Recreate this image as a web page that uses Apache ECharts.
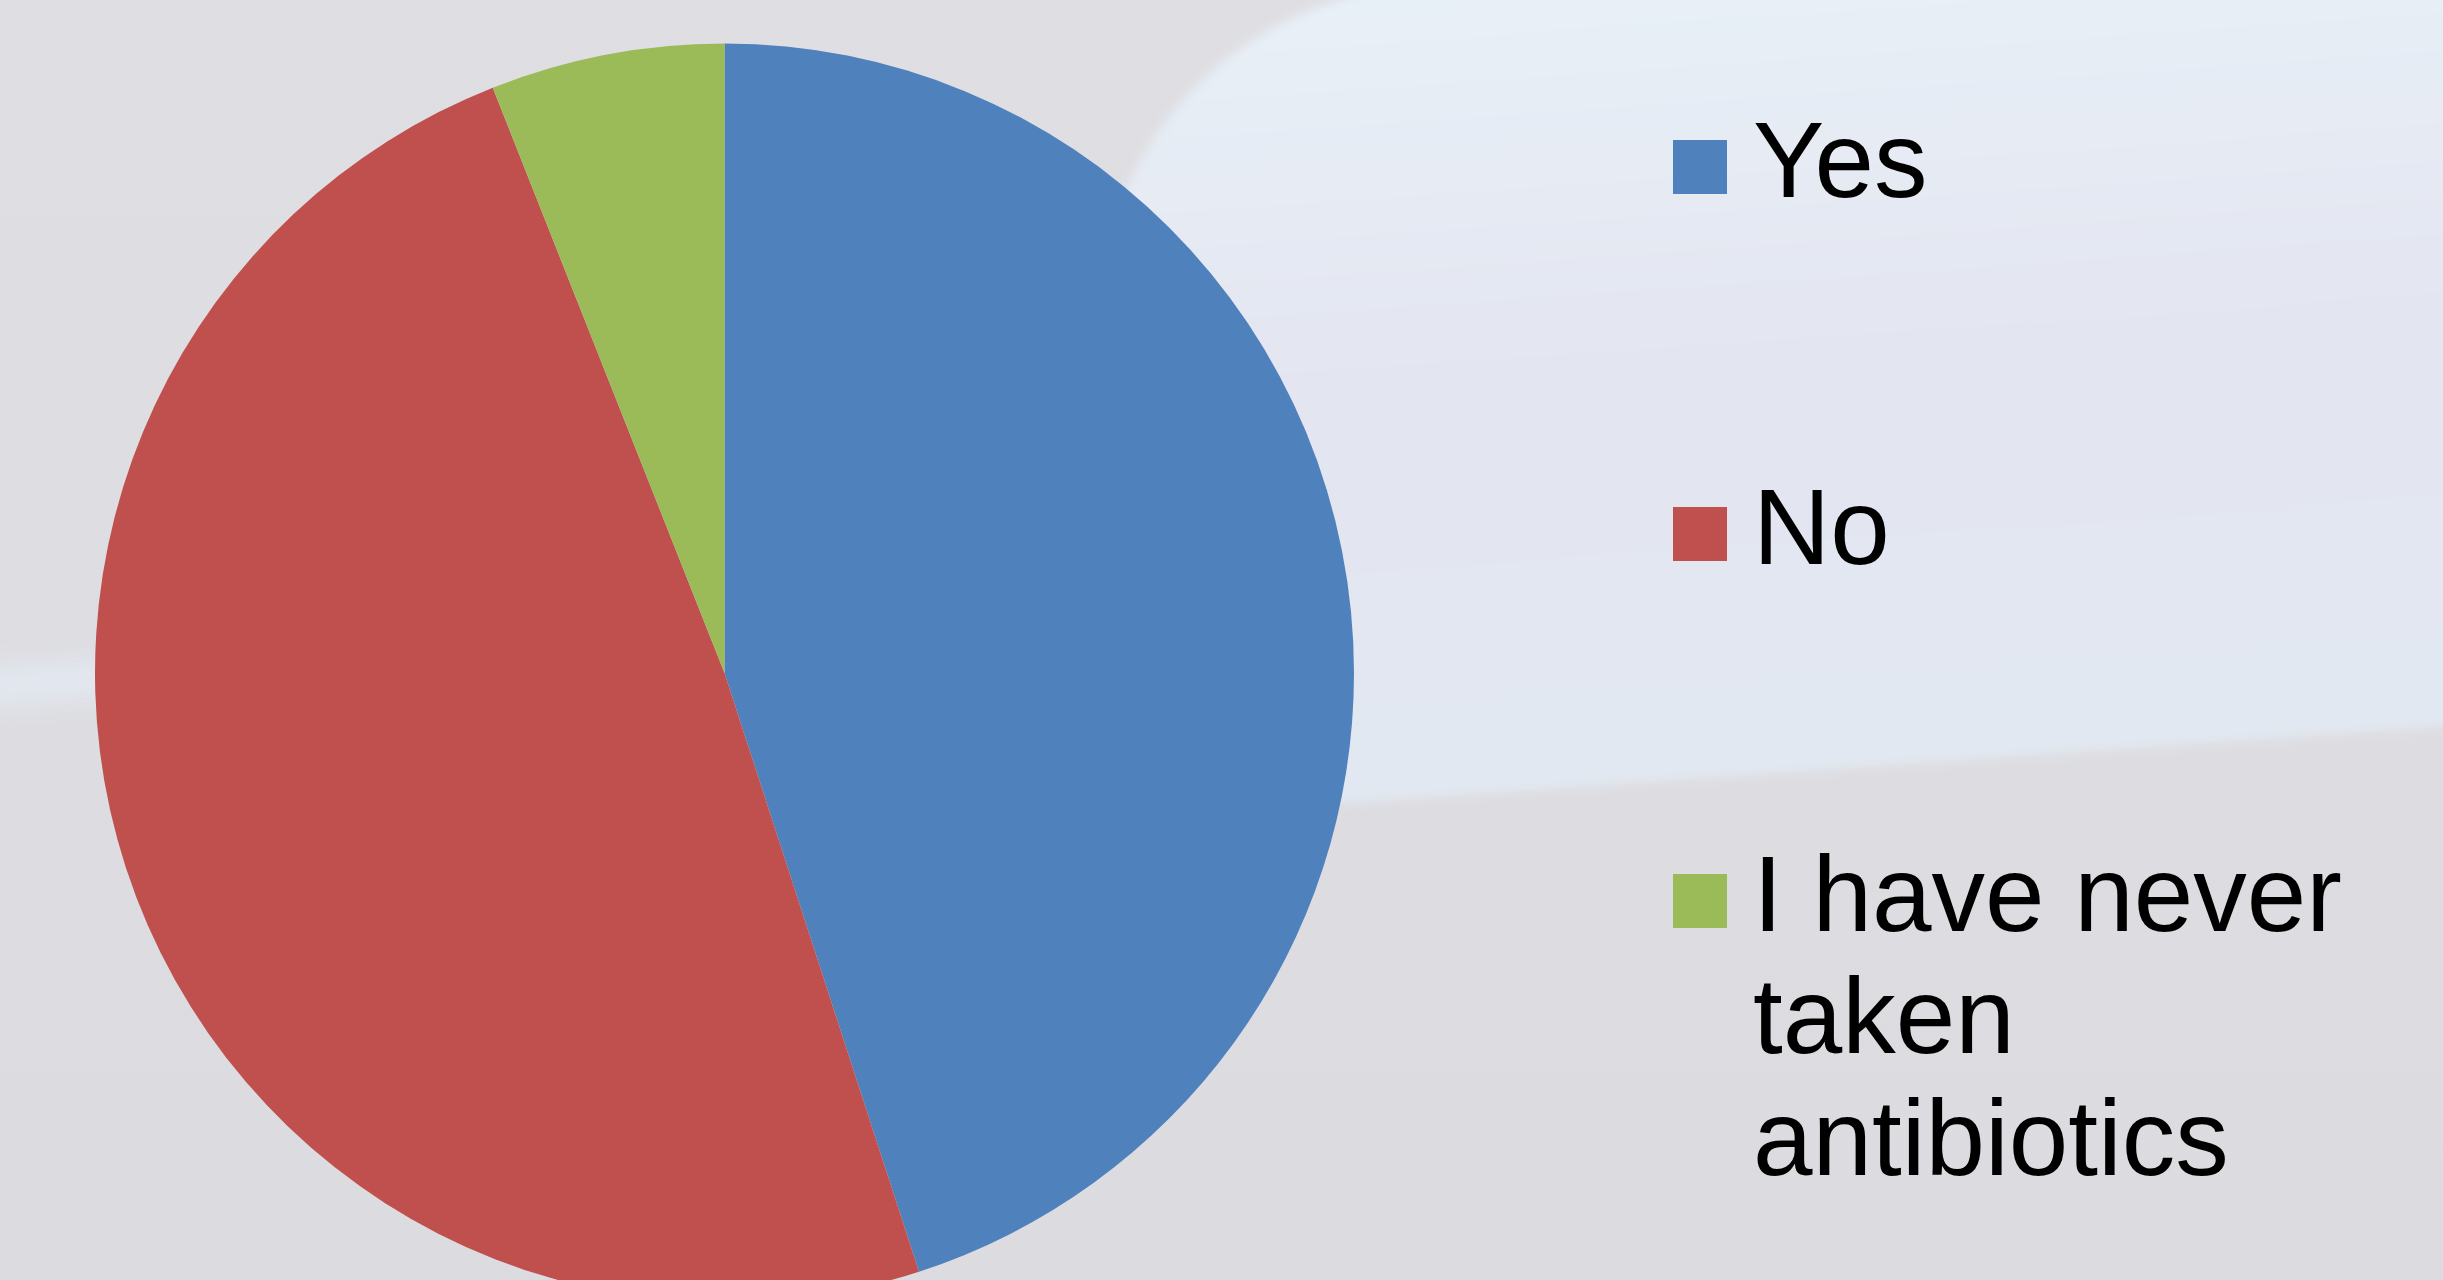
<!DOCTYPE html>
<html>
<head>
<meta charset="utf-8">
<script src="https://cdn.jsdelivr.net/npm/echarts@6/dist/echarts.min.js"></script>
<style>
  html, body { margin: 0; padding: 0; width: 2443px; height: 1280px; overflow: hidden; }
  body { background: linear-gradient(180deg, #dfdfe3 0%, #dcdce0 100%); position: relative; }
  .bg { position: absolute; pointer-events: none; }
  #shape {
    left: 1075px; top: 10px; width: 1600px; height: 810px;
    border-radius: 340px 0 0 240px;
    background: linear-gradient(180deg, #e8f0f7 0%, #e3e5f0 50%, #e2e8f1 100%);
    transform: rotate(-4deg); transform-origin: 0 0;
    filter: blur(5px);
  }
  #band {
    left: -20px; top: 660px; width: 200px; height: 40px;
    background: #e2e7ef; filter: blur(10px); transform: rotate(-4deg);
  }
  #chart { position: absolute; left: 0; top: 0; width: 2443px; height: 1280px; }
</style>
</head>
<body>
<div id="shape" class="bg"></div>
<div id="band" class="bg"></div>
<div id="chart"></div>
<script>
const categories = ['Yes', 'No', 'I have never taken antibiotics'];
const values = [45, 49, 6];
const colors = ['#4F81BD', '#C0504D', '#9BBB59'];
const legendLabels = ['Yes', 'No', '\n\nI have never\ntaken\nantibiotics'];

const chart = echarts.init(document.getElementById('chart'), null, { renderer: 'canvas' });

const fontBase = {
  fontFamily: '"Liberation Sans", Arial, sans-serif',
  fontSize: 107,
  lineHeight: 122,
  color: '#000',
  padding: [0, 0, 0, 21]
};

const legendTops = [106, 473, 596];
const legends = categories.map((c, i) => ({
  data: [c],
  orient: 'vertical',
  left: 1673,
  top: legendTops[i],
  padding: 0,
  itemWidth: 54,
  itemHeight: 54,
  icon: 'rect',
  selectedMode: false,
  formatter: () => legendLabels[i],
  textStyle: fontBase
}));

chart.setOption({
  animation: false,
  backgroundColor: 'transparent',
  color: colors,
  legend: legends,
  series: [{
    type: 'pie',
    center: [724.5, 673],
    radius: 629.5,
    startAngle: 90,
    clockwise: true,
    label: { show: false },
    labelLine: { show: false },
    emphasis: { disabled: true },
    itemStyle: { borderWidth: 0 },
    data: categories.map((c, i) => ({ name: c, value: values[i] }))
  }]
});
</script>
</body>
</html>
